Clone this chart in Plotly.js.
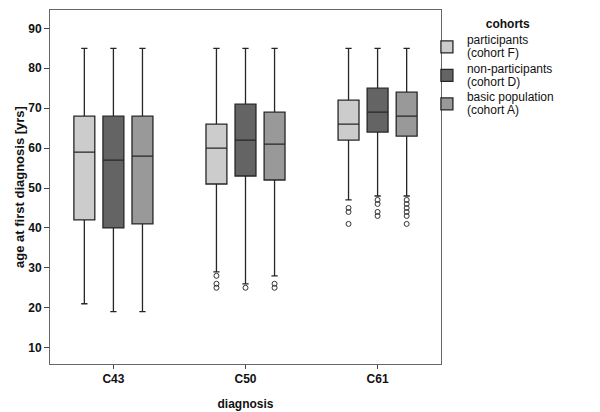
<!DOCTYPE html>
<html>
<head>
<meta charset="utf-8">
<script src="https://cdn.plot.ly/plotly-3.0.1.min.js"></script>
<style>html,body{margin:0;padding:0;background:#fff;}#chart{width:600px;height:412px;}</style>
</head>
<body>
<div id="chart"></div>
<script>
// Categories
const diagnoses = ["C43", "C50", "C61"];

// Cohort names (legend)
const cohortNames = ["participants<br>(cohort F)", "non-participants<br>(cohort D)", "basic population<br>(cohort A)"];
const legendTitle = "cohorts";

// participants (cohort F)
const partLower  = [21, 29, 47];
const partQ1     = [42, 51, 62];
const partMedian = [59, 60, 66];
const partQ3     = [68, 66, 72];
const partUpper  = [85, 85, 85];
const partOutliers = [[], [28, 26, 25], [45, 44, 41]];

// non-participants (cohort D)
const nonLower  = [19, 26, 48];
const nonQ1     = [40, 53, 64];
const nonMedian = [57, 62, 69];
const nonQ3     = [68, 71, 75];
const nonUpper  = [85, 85, 85];
const nonOutliers = [[], [25], [47, 46, 44, 43]];

// basic population (cohort A)
const basLower  = [19, 28, 48];
const basQ1     = [41, 52, 63];
const basMedian = [58, 61, 68];
const basQ3     = [68, 69, 74];
const basUpper  = [85, 85, 85];
const basOutliers = [[], [26, 25], [47, 46, 45, 44, 43, 41]];

// y-axis ticks
const yTicks = [10, 20, 30, 40, 50, 60, 70, 80, 90];

const fills = ["#cccccc", "#646464", "#999999"];

function legendLabel(name) {
  return name.split("<br>").map(s => '<span style="font-size:12px">' + s + '</span>').join("<br>");
}

function boxTrace(name, lf, q1, med, q3, uf, outl, fill) {
  // Plotly needs every sample row non-empty; the median is inside the fences, so it is never drawn as a point.
  const pts = outl.map((o, i) => o.concat([med[i]]));
  return {
    type: "box",
    name: legendLabel(name),
    x: diagnoses,
    y: pts,
    lowerfence: lf,
    q1: q1,
    median: med,
    q3: q3,
    upperfence: uf,
    boxpoints: "outliers",
    jitter: 0,
    pointpos: 0,
    whiskerwidth: 0.3,
    fillcolor: fill,
    line: {color: "#262626", width: 1.3},
    marker: {symbol: "circle-open", size: 5, color: "#333333", line: {width: 1, color: "#333333"}},
    hoverinfo: "skip"
  };
}

const data = [
  boxTrace(cohortNames[0], partLower, partQ1, partMedian, partQ3, partUpper, partOutliers, fills[0]),
  boxTrace(cohortNames[1], nonLower, nonQ1, nonMedian, nonQ3, nonUpper, nonOutliers, fills[1]),
  boxTrace(cohortNames[2], basLower, basQ1, basMedian, basQ3, basUpper, basOutliers, fills[2])
];

const fontFam = "Liberation Sans, Arial, sans-serif";
const titlePad = "\u00a0".repeat(9);

const layout = {
  width: 600,
  height: 412,
  margin: {l: 50, r: 159, t: 10, b: 48},
  paper_bgcolor: "#ffffff",
  plot_bgcolor: "#ffffff",
  font: {family: fontFam, size: 12, color: "#111111"},
  boxmode: "group",
  boxgap: 0.34,
  boxgroupgap: 0.28,
  showlegend: true,
  legend: {
    x: 0.964, xanchor: "left", y: 0.994, yanchor: "top",
    title: {text: titlePad + "<b>" + legendTitle + "</b>", side: "top center", font: {size: 12, family: fontFam, color: "#111111"}},
    font: {size: 9.8, family: fontFam, color: "#111111"},
    bgcolor: "rgba(0,0,0,0)",
    itemwidth: 30
  },
  xaxis: {
    type: "category",
    range: [-0.48, 2.48],
    showline: true, mirror: true, linecolor: "#666666", linewidth: 1,
    ticks: "outside", ticklen: 4, tickcolor: "#444444",
    showgrid: false, zeroline: false,
    tickfont: {family: fontFam, size: 12, color: "#111111", weight: "bold"},
    title: {text: "<b>diagnosis</b>", font: {family: fontFam, size: 12, color: "#111111"}, standoff: 14}
  },
  yaxis: {
    range: [5.9, 94.6],
    tickvals: yTicks,
    ticktext: yTicks.map(String),
    showline: true, mirror: true, linecolor: "#666666", linewidth: 1,
    ticks: "outside", ticklen: 5, tickcolor: "#444444",
    showgrid: false, zeroline: false,
    tickfont: {family: fontFam, size: 12, color: "#111111", weight: "bold"},
    title: {text: "<b>age at first diagnosis [yrs]</b>", font: {family: fontFam, size: 13, color: "#111111"}, standoff: 0}
  }
};

Plotly.newPlot("chart", data, layout, {staticPlot: true, displayModeBar: false});
</script>
</body>
</html>
